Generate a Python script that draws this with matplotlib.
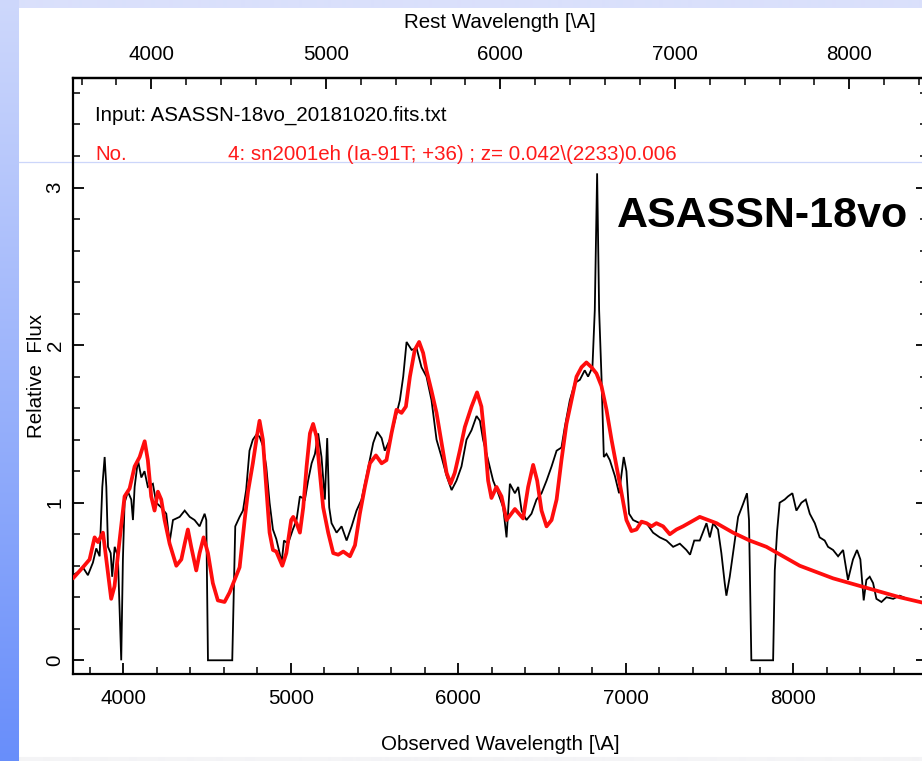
import numpy as np
import matplotlib
matplotlib.use("Agg")
import matplotlib.pyplot as plt
from matplotlib.ticker import MultipleLocator
from matplotlib.lines import Line2D

W, H = 922, 761
DPI = 100
FONT = ["Liberation Sans", "DejaVu Sans"]
plt.rcParams["font.family"] = FONT

# Redshift of the best-matching template
z = 0.042

# Observed spectrum (ASASSN-18vo, 2018-10-20)
obs_wave = [3700, 3730, 3759, 3789, 3819, 3839, 3859, 3875, 3889, 3899, 3909, 3925, 3934,
            3949, 3968, 3988, 3998, 4008, 4028, 4048, 4058, 4068, 4088, 4108, 4127, 4147,
            4177, 4197, 4227, 4257, 4277, 4297, 4337, 4367, 4397, 4426, 4456, 4486, 4496,
            4506, 4651, 4669, 4695, 4715, 4734, 4754, 4774, 4794, 4814, 4834, 4854, 4874,
            4894, 4914, 4934, 4946, 4960, 4984, 5013, 5035, 5055, 5085, 5104, 5125, 5145,
            5164, 5184, 5204, 5218, 5230, 5244, 5274, 5304, 5334, 5364, 5393, 5423, 5453,
            5493, 5517, 5543, 5562, 5592, 5622, 5652, 5672, 5692, 5722, 5752, 5781, 5811,
            5841, 5871, 5901, 5931, 5961, 5990, 6020, 6050, 6080, 6110, 6130, 6149, 6179,
            6209, 6239, 6269, 6289, 6309, 6339, 6359, 6379, 6408, 6438, 6468, 6498, 6528,
            6558, 6588, 6617, 6637, 6667, 6697, 6727, 6756, 6776, 6802, 6816, 6830, 6842,
            6856, 6870, 6886, 6906, 6936, 6961, 6989, 7005, 7021, 7045, 7085, 7125, 7164,
            7204, 7244, 7284, 7324, 7363, 7385, 7410, 7443, 7483, 7503, 7523, 7552, 7572,
            7592, 7602, 7622, 7642, 7672, 7701, 7725, 7737, 7751, 7881, 7891, 7905, 7920,
            7950, 7970, 7996, 8020, 8050, 8076, 8100, 8130, 8159, 8189, 8209, 8239, 8269,
            8299, 8328, 8358, 8382, 8402, 8422, 8438, 8458, 8478, 8498, 8528, 8558, 8598,
            8637, 8660]
obs_flux = [0.54, 0.56, 0.59, 0.54, 0.62, 0.71, 0.66, 1.10, 1.29, 1.10, 0.72, 0.68, 0.53,
            0.72, 0.66, 0.00, 0.64, 1.00, 1.07, 1.02, 0.89, 1.10, 1.27, 1.16, 1.20, 1.10,
            1.12, 1.00, 0.97, 0.93, 0.75, 0.89, 0.91, 0.95, 0.91, 0.89, 0.85, 0.93, 0.89,
            0.00, 0.00, 0.85, 0.91, 0.95, 1.08, 1.33, 1.40, 1.43, 1.42, 1.36, 1.23, 1.00,
            0.83, 0.77, 0.68, 0.62, 0.76, 0.74, 0.83, 0.89, 1.04, 1.02, 1.14, 1.25, 1.31,
            1.44, 1.29, 1.02, 1.41, 0.97, 0.87, 0.81, 0.85, 0.76, 0.85, 0.95, 1.02, 1.17,
            1.38, 1.45, 1.41, 1.33, 1.40, 1.52, 1.65, 1.80, 2.02, 1.97, 1.98, 1.86, 1.80,
            1.65, 1.40, 1.29, 1.17, 1.08, 1.14, 1.23, 1.40, 1.46, 1.55, 1.52, 1.40, 1.27,
            1.14, 1.06, 0.97, 0.78, 1.12, 1.06, 1.10, 0.95, 0.89, 0.93, 1.02, 1.06, 1.14,
            1.23, 1.33, 1.35, 1.48, 1.65, 1.76, 1.78, 1.84, 1.80, 1.86, 2.22, 3.09, 2.22,
            1.80, 1.29, 1.31, 1.27, 1.17, 1.06, 1.29, 1.20, 0.93, 0.89, 0.87, 0.87, 0.81,
            0.78, 0.76, 0.72, 0.74, 0.70, 0.67, 0.76, 0.76, 0.87, 0.78, 0.87, 0.83, 0.68,
            0.49, 0.41, 0.53, 0.68, 0.91, 0.99, 1.06, 0.89, 0.00, 0.00, 0.57, 0.82, 1.00,
            1.02, 1.04, 1.06, 0.95, 1.00, 1.02, 0.93, 0.87, 0.78, 0.76, 0.72, 0.70, 0.66,
            0.70, 0.51, 0.64, 0.70, 0.64, 0.38, 0.51, 0.53, 0.49, 0.39, 0.37, 0.40, 0.39,
            0.41, 0.40]

# Template sn2001eh (Ia-91T, +36 d), redshifted to z
tmpl_wave = [3700, 3759, 3799, 3829, 3849, 3879, 3899, 3928, 3948, 3978, 4008, 4038, 4068,
             4098, 4128, 4147, 4167, 4187, 4207, 4227, 4247, 4277, 4317, 4347, 4367, 4386,
             4406, 4436, 4456, 4480, 4506, 4535, 4565, 4605, 4635, 4665, 4695, 4725, 4745,
             4774, 4798, 4814, 4834, 4854, 4874, 4894, 4914, 4950, 4974, 5003, 5015, 5035,
             5055, 5075, 5095, 5115, 5134, 5154, 5174, 5194, 5224, 5254, 5284, 5314, 5354,
             5384, 5413, 5443, 5473, 5509, 5543, 5572, 5602, 5632, 5662, 5688, 5712, 5741,
             5767, 5791, 5811, 5841, 5871, 5901, 5931, 5955, 5980, 6010, 6040, 6080, 6113,
             6139, 6159, 6179, 6199, 6229, 6259, 6289, 6339, 6388, 6418, 6448, 6472, 6498,
             6528, 6558, 6588, 6617, 6647, 6677, 6707, 6737, 6766, 6796, 6826, 6856, 6886,
             6916, 6946, 6976, 7005, 7035, 7065, 7095, 7125, 7155, 7184, 7224, 7264, 7304,
             7343, 7393, 7443, 7493, 7543, 7642, 7741, 7841, 7940, 8040, 8140, 8239, 8338,
             8438, 8537, 8637, 8756, 8800]
tmpl_flux = [0.52, 0.59, 0.64, 0.78, 0.75, 0.81, 0.64, 0.39, 0.47, 0.76, 1.04, 1.09, 1.23,
             1.29, 1.39, 1.27, 1.04, 0.95, 1.07, 1.02, 0.89, 0.74, 0.60, 0.64, 0.74, 0.83,
             0.72, 0.57, 0.68, 0.78, 0.68, 0.49, 0.38, 0.37, 0.43, 0.51, 0.59, 0.89, 1.07,
             1.25, 1.42, 1.52, 1.40, 1.10, 0.81, 0.70, 0.69, 0.60, 0.68, 0.89, 0.91, 0.87,
             0.81, 0.97, 1.23, 1.44, 1.50, 1.42, 1.19, 0.97, 0.81, 0.68, 0.67, 0.69, 0.66,
             0.73, 0.93, 1.10, 1.25, 1.30, 1.25, 1.27, 1.44, 1.59, 1.57, 1.61, 1.80, 1.97,
             2.02, 1.95, 1.84, 1.71, 1.57, 1.38, 1.19, 1.12, 1.19, 1.33, 1.48, 1.61, 1.70,
             1.61, 1.40, 1.14, 1.03, 1.10, 1.04, 0.89, 0.96, 0.90, 1.10, 1.24, 1.14, 0.95,
             0.85, 0.89, 1.02, 1.27, 1.50, 1.65, 1.80, 1.86, 1.89, 1.86, 1.82, 1.74, 1.59,
             1.40, 1.23, 1.06, 0.89, 0.82, 0.83, 0.88, 0.87, 0.85, 0.87, 0.85, 0.80, 0.83,
             0.85, 0.88, 0.91, 0.89, 0.87, 0.81, 0.76, 0.72, 0.66, 0.60, 0.56, 0.52, 0.49,
             0.46, 0.43, 0.40, 0.37, 0.36]

obs_ticks = [4000, 5000, 6000, 7000, 8000]
rest_ticks = [4000, 5000, 6000, 7000, 8000]
flux_ticks = [0, 1, 2, 3]

input_label = "Input: ASASSN-18vo_20181020.fits.txt"
match_no = "No."
match_label = "4: sn2001eh (Ia-91T; +36) ; z= 0.042\\(2233)0.006"
object_name = "ASASSN-18vo"

FS = 14.8


def fx(px):
    return px / W


def fy(py):
    return 1 - py / H


fig = plt.figure(figsize=(W / DPI, H / DPI), dpi=DPI)
fig.patch.set_facecolor("white")

# Slide backdrop: pale band on top, blue gradient strip on the left
bg = fig.add_axes([0, 0, 1, 1], zorder=-10)
img = np.ones((H, W, 3))
img[:8, :, :] = np.array([218, 224, 251]) / 255
t = np.linspace(0, 1, H)[:, None]
top_c = np.array([206, 216, 252]) / 255
bot_c = np.array([104, 142, 250]) / 255
img[:, :19, :] = (top_c * (1 - t) + bot_c * t)[:, None, :]
img[757:, 19:, :] = np.array([244, 244, 246]) / 255
bg.imshow(img, extent=(0, W, H, 0), aspect="auto", interpolation="bilinear")
bg.set_xlim(0, W)
bg.set_ylim(H, 0)
bg.axis("off")
bg.add_line(Line2D([19, W], [162, 162], color=(0.80, 0.84, 0.98), lw=0.9))

# Main spectrum axes
x0, x1 = 73, 927
y0, y1 = 78, 674
ax = fig.add_axes([fx(x0), fy(y1), (x1 - x0) / W, (y1 - y0) / H])
ax.set_facecolor("none")

ax.plot(obs_wave, obs_flux, color="black", lw=1.3, zorder=2, solid_joinstyle="miter")
ax.plot(tmpl_wave, tmpl_flux, color=(1.0, 0.05, 0.05), lw=2.7, zorder=3,
        solid_joinstyle="round", solid_capstyle="round")

ax.set_xlim(3700, 8800)
ax.set_ylim(-0.087, 3.695)

ax.set_xticks(obs_ticks)
ax.xaxis.set_minor_locator(MultipleLocator(200))
ax.set_yticks(flux_ticks)
ax.yaxis.set_minor_locator(MultipleLocator(0.2))

ax.tick_params(axis="both", which="both", direction="in", color="black",
               top=False, right=True, labelsize=FS)
ax.tick_params(axis="both", which="major", length=8, width=1.3)
ax.tick_params(axis="both", which="minor", length=5, width=1.1)
ax.tick_params(axis="x", which="major", pad=11)
ax.tick_params(axis="y", which="major", pad=6, labelrotation=90)
for lbl in ax.get_yticklabels():
    lbl.set_va("center")

for s in ax.spines.values():
    s.set_linewidth(1.6)

ax.set_xlabel("Observed Wavelength [\\A]", fontsize=FS, labelpad=19)
ax.set_ylabel("Relative  Flux", fontsize=FS, labelpad=0)

# Rest-frame wavelength on the top axis
sec = ax.secondary_xaxis("top", functions=(lambda w: w / (1 + z), lambda w: w * (1 + z)))
sec.set_xticks(rest_ticks)
sec.xaxis.set_minor_locator(MultipleLocator(200))
sec.tick_params(axis="x", which="both", direction="in", labelsize=FS)
sec.tick_params(axis="x", which="major", length=8, width=1.3, pad=10)
sec.tick_params(axis="x", which="minor", length=5, width=1.1)
sec.spines["top"].set_linewidth(1.6)
sec.set_xlabel("Rest Wavelength [\\A]", fontsize=FS, labelpad=12)

# Annotations
fig.text(fx(95), fy(115), input_label, color="black", fontsize=FS, va="center")
fig.text(fx(95), fy(155), match_no, color=(1.0, 0.1, 0.1), fontsize=FS, va="center")
fig.text(fx(228), fy(155), match_label, color=(1.0, 0.1, 0.1), fontsize=FS, va="center")
fig.text(fx(617), fy(216), object_name, color="black", fontsize=31, fontweight="bold",
         va="center", ha="left")

fig.savefig("out.png", dpi=DPI)
